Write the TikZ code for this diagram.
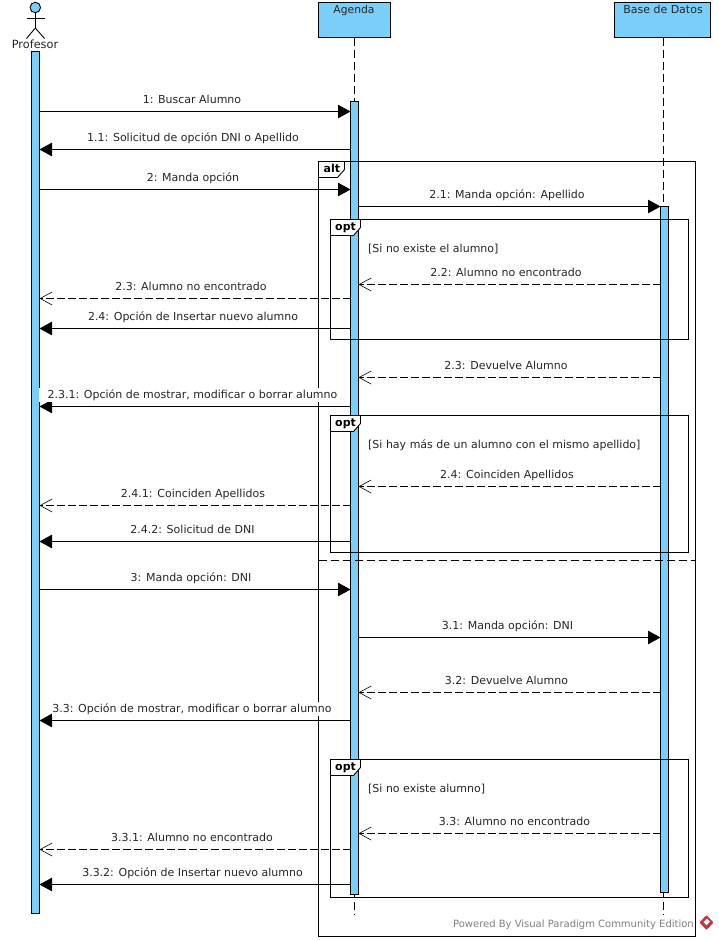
\documentclass[tikz,border=0pt]{standalone}
\usepackage{fontspec}
\setmainfont{DejaVu Sans}
\usetikzlibrary{arrows.meta, positioning, backgrounds}
\definecolor{barblue}{RGB}{122,207,250}
\definecolor{logored}{RGB}{205,50,60}
\tikzstyle{lifeline} = [draw, line width=0.9pt, fill=barblue, inner sep=0pt, outer sep=0pt, anchor=north west]
\tikzstyle{objbox} = [lifeline, align=center]
\tikzstyle{dash line} = [line width=0.9pt, dash pattern=on 8pt off 4pt]
\tikzstyle{syncmsg} = [line width=0.9pt, -{Triangle[length=12.5pt, width=13.5pt]}]
\tikzstyle{retmsg} = [line width=0.9pt, dash pattern=on 8pt off 3pt, -{Straight Barb[length=12pt, width=13pt, line width=0.6pt]}]
\tikzstyle{msgtext} = [inner sep=0pt, anchor=base, font=\fontsize{11}{13}\selectfont, text=black!85]
\tikzstyle{maskedtext} = [msgtext, fill=white, text height=10pt, text depth=4pt]
\tikzstyle{guardtext} = [msgtext, anchor=base west]
\tikzstyle{frametext} = [inner sep=0pt, anchor=base west, font=\fontsize{11}{13}\selectfont\bfseries]
\tikzstyle{frameline} = [line width=0.9pt]
\tikzstyle{tabline} = [line width=0.9pt, fill=white]
\begin{document}
\begin{tikzpicture}[x=1pt, y=-1pt]
\useasboundingbox (0, 0) rectangle (718, 940);

% Profesor
\node (head) [draw, circle, line width=0.9pt, fill=barblue, minimum size=10.5pt, inner sep=0pt] at (35.3, 7.5) {};
\coordinate (hip) at (35.3, 28);
\coordinate (armL) at (26.5, 18);
\coordinate (armR) at (44.5, 18);
\coordinate (legL) at (26.5, 38.5);
\coordinate (legR) at (44.5, 38.5);
\draw [frameline] (head) -- (hip);
\draw [frameline] (armL) -- (armR);
\draw [frameline] (legL) -- (hip) -- (legR);
\node (profesor) [msgtext, font=\fontsize{11.3}{13}\selectfont] at (35, 48) {Profesor};

% Objects and lifelines
\node (agenda) [objbox, minimum width=72pt, minimum height=35pt] at (318.5, 2.5) {};
\node (agendaname) [msgtext, font=\fontsize{10.8}{13}\selectfont] at (354, 13) {Agenda};
\node (base) [objbox, minimum width=96pt, minimum height=35pt] at (614.5, 2.5) {};
\node (basename) [msgtext] at (663, 13) {Base de Datos};
\coordinate (agendaend) at (354.5, 915);
\coordinate (baseend) at (663.5, 915);
\draw [dash line] (agenda.south -| agendaend) -- (agendaend);
\draw [dash line] (base.south -| baseend) -- (baseend);

% Activation bars
\node (barP) [lifeline, minimum width=8pt, minimum height=862pt] at (31.5, 51.5) {};
\node (barA) [lifeline, minimum width=8pt, minimum height=793pt] at (350.5, 101.5) {};
\node (barB) [lifeline, minimum width=8pt, minimum height=686pt] at (660.5, 206.5) {};

% Frames
\coordinate (altA) at (318.5, 161.5);
\coordinate (altB) at (695.5, 936.5);
\draw [frameline] (altA) rectangle (altB);
\draw [tabline] (altA) -- (344.5, 161.5) -- (344.5, 169.5) -- (337.5, 177.5) -- (318.5, 177.5) -- cycle;
\node (alt) [frametext] at (323.5, 172) {alt};
\coordinate (sepL) at (318.5, 560.5);
\draw [dash line] (sepL) -- (altB |- sepL);

\draw [frameline] (330.5, 219.5) rectangle (688.5, 339.5);
\draw [tabline] (330.5, 219.5) -- (360.5, 219.5) -- (360.5, 227.5) -- (353.5, 235.5) -- (330.5, 235.5) -- cycle;
\node (opt1) [frametext] at (335, 230) {opt};
\draw [frameline] (330.5, 415.5) rectangle (688.5, 552.5);
\draw [tabline] (330.5, 415.5) -- (360.5, 415.5) -- (360.5, 423.5) -- (353.5, 431.5) -- (330.5, 431.5) -- cycle;
\node (opt2) [frametext] at (335, 426) {opt};
\draw [frameline] (330.5, 759.5) rectangle (688.5, 897.5);
\draw [tabline] (330.5, 759.5) -- (360.5, 759.5) -- (360.5, 767.5) -- (353.5, 775.5) -- (330.5, 775.5) -- cycle;
\node (opt3) [frametext] at (335, 770) {opt};

% Guards
\node (guard1) [guardtext] at (368, 252) {[Si no existe el alumno]};
\node (guard2) [guardtext] at (368, 448) {[Si hay más de un alumno con el mismo apellido]};
\node (guard3) [guardtext] at (368, 792) {[Si no existe alumno]};

% Messages
\coordinate (m1) at (0, 111.5);
\draw [syncmsg] (barP.east |- m1) -- (barA.west |- m1);
\node (t1) [msgtext] at (192, 103) {1: Buscar Alumno};
\coordinate (m11) at (0, 149.5);
\draw [syncmsg] (barA.west |- m11) -- (barP.east |- m11);
\node (t11) [msgtext] at (193, 141) {1.1: Solicitud de opción DNI o Apellido};
\coordinate (m2) at (0, 189.5);
\draw [syncmsg] (barP.east |- m2) -- (barA.west |- m2);
\node (t2) [msgtext] at (193, 181) {2: Manda opción};
\coordinate (m21) at (0, 206.5);
\draw [syncmsg] (barA.east |- m21) -- (barB.west |- m21);
\node (t21) [msgtext] at (507, 198) {2.1: Manda opción: Apellido};
\coordinate (m22) at (0, 284.5);
\draw [retmsg] (barB.west |- m22) -- (barA.east |- m22);
\node (t22) [msgtext] at (506, 276) {2.2: Alumno no encontrado};
\coordinate (m23) at (0, 298.5);
\draw [retmsg] (barA.west |- m23) -- (barP.east |- m23);
\node (t23) [msgtext] at (191, 290) {2.3: Alumno no encontrado};
\coordinate (m24) at (0, 328.5);
\draw [syncmsg] (barA.west |- m24) -- (barP.east |- m24);
\node (t24) [msgtext] at (193, 320) {2.4: Opción de Insertar nuevo alumno};
\coordinate (m23b) at (0, 377.5);
\draw [retmsg] (barB.west |- m23b) -- (barA.east |- m23b);
\node (t23b) [msgtext] at (506, 369) {2.3: Devuelve Alumno};
\coordinate (m231) at (0, 406.5);
\draw [syncmsg] (barA.west |- m231) -- (barP.east |- m231);
\node (t231) [maskedtext, inner xsep=9pt] at (192.5, 398) {2.3.1: Opción de mostrar, modificar o borrar alumno};
\coordinate (m24b) at (0, 486.5);
\draw [retmsg] (barB.west |- m24b) -- (barA.east |- m24b);
\node (t24b) [msgtext] at (507, 478) {2.4: Coinciden Apellidos};
\coordinate (m241) at (0, 505.5);
\draw [retmsg] (barA.west |- m241) -- (barP.east |- m241);
\node (t241) [msgtext] at (193, 497) {2.4.1: Coinciden Apellidos};
\coordinate (m242) at (0, 541.5);
\draw [syncmsg] (barA.west |- m242) -- (barP.east |- m242);
\node (t242) [msgtext] at (192.5, 533) {2.4.2: Solicitud de DNI};
\coordinate (m3) at (0, 589.5);
\draw [syncmsg] (barP.east |- m3) -- (barA.west |- m3);
\node (t3) [msgtext] at (191, 581) {3: Manda opción: DNI};
\coordinate (m31) at (0, 637.5);
\draw [syncmsg] (barA.east |- m31) -- (barB.west |- m31);
\node (t31) [msgtext] at (507.5, 629) {3.1: Manda opción: DNI};
\coordinate (m32) at (0, 692.5);
\draw [retmsg] (barB.west |- m32) -- (barA.east |- m32);
\node (t32) [msgtext] at (506.5, 684) {3.2: Devuelve Alumno};
\coordinate (m33) at (0, 720.5);
\draw [syncmsg] (barA.west |- m33) -- (barP.east |- m33);
\node (t33) [maskedtext] at (192, 712) {3.3: Opción de mostrar, modificar o borrar alumno};
\coordinate (m33b) at (0, 833.5);
\draw [retmsg] (barB.west |- m33b) -- (barA.east |- m33b);
\node (t33b) [msgtext] at (514.5, 825) {3.3: Alumno no encontrado};
\coordinate (m331) at (0, 849.5);
\draw [retmsg] (barA.west |- m331) -- (barP.east |- m331);
\node (t331) [msgtext] at (192, 841) {3.3.1: Alumno no encontrado};
\coordinate (m332) at (0, 884.5);
\draw [syncmsg] (barA.west |- m332) -- (barP.east |- m332);
\node (t332) [msgtext] at (192.5, 876) {3.3.2: Opción de Insertar nuevo alumno};

% Footer
\node (powered) [inner sep=0pt, anchor=base east, font=\fontsize{10}{12}\selectfont, text=black!50] at (694, 927.5) {Powered By Visual Paradigm Community Edition};
\fill [logored, rounded corners=1pt] (706.5, 915) -- (713.5, 922.5) -- (706.5, 930) -- (699.5, 922.5) -- cycle;
\fill [white] (707, 918.5) -- (710, 921.5) -- (706.5, 925) -- (703.5, 922) -- cycle;

\begin{scope}[on background layer]
\fill [white] (0, 0) rectangle (718, 940);
\end{scope}

\end{tikzpicture}
\end{document}
